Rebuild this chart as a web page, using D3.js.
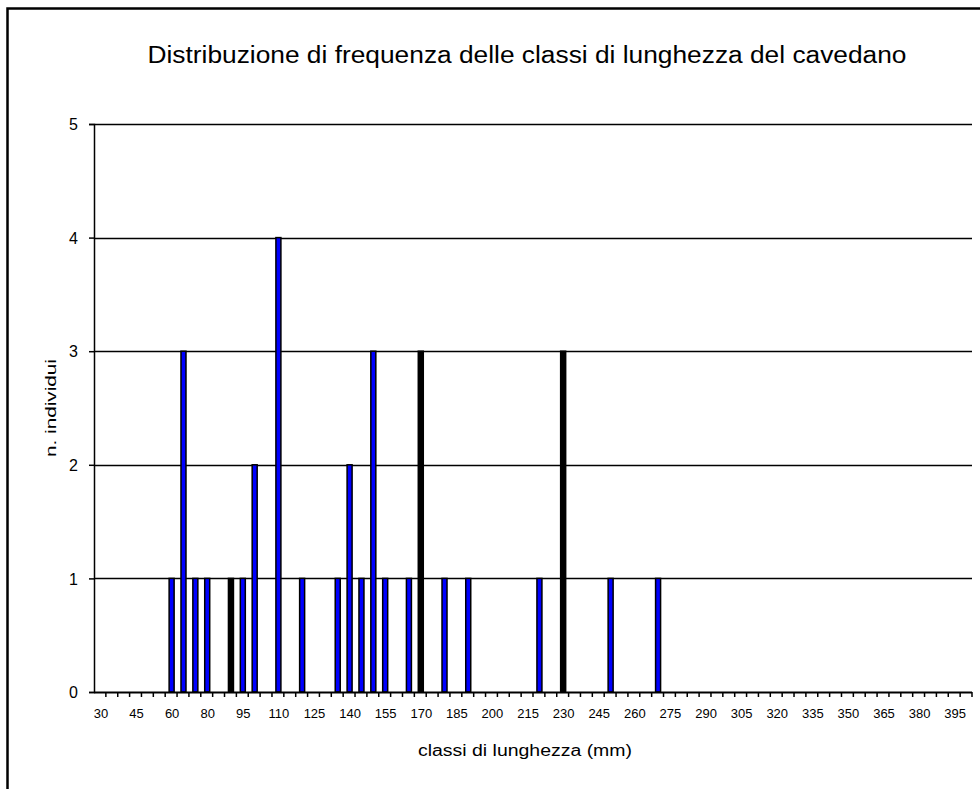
<!DOCTYPE html>
<html>
<head>
<meta charset="utf-8">
<script src="https://cdn.jsdelivr.net/npm/d3@7"></script>
<style>
  body { margin: 0; background: #fff; }
  text { font-family: "Liberation Sans", Arial, sans-serif; fill: #000; }
</style>
</head>
<body>
<div id="chart"></div>
<script>
// classi di lunghezza (mm) - asse categorie
var classi = [30, 35, 40, 45, 50, 55, 60, 65, 70];
for (var v = 80; v <= 400; v += 5) classi.push(v);

// numero di individui per classe (solo classi non vuote)
var classiPiene = [60, 65, 70, 80, 90, 95, 100, 110, 120, 135, 140, 145, 150, 155, 165, 170, 180, 190, 220, 230, 250, 270];
var individui    = [ 1,  3,  1,  1,  1,  1,   2,   4,   1,   1,   2,   1,   3,   1,   1,   3,   1,   1,   1,   3,   1,   1];
// barre che nello screenshot risultano tutte nere
var barreScure = [90, 170, 230];

var yTicks = [0, 1, 2, 3, 4, 5];
var xLabelEvery = 3;

var W = 980, H = 789;
var mLeft = 94, mRight = 972, mTop = 124, mBottom = 692;

var svg = d3.select("#chart").append("svg")
    .attr("width", W)
    .attr("height", H);

svg.append("rect").attr("width", W).attr("height", H).attr("fill", "#fff");

// cornice del grafico
svg.append("rect")
    .attr("x", 7.5).attr("y", 8.5)
    .attr("width", 990).attr("height", 800)
    .attr("fill", "none")
    .attr("stroke", "#000")
    .attr("stroke-width", 2.5);

var x = d3.scaleBand()
    .domain(classi)
    .range([mLeft, mRight])
    .paddingInner(0).paddingOuter(0);

var y = d3.scaleLinear()
    .domain([0, 5])
    .range([mBottom, mTop]);

// griglia orizzontale
svg.append("g").selectAll("line")
    .data(yTicks.filter(function(d){ return d > 0; }))
    .enter().append("line")
    .attr("x1", mLeft).attr("x2", mRight)
    .attr("y1", function(d){ return Math.round(y(d)) + 0.5; })
    .attr("y2", function(d){ return Math.round(y(d)) + 0.5; })
    .attr("stroke", "#000")
    .attr("stroke-width", 1.5);

// barre
var dati = classiPiene.map(function(c, i){ return { classe: c, n: individui[i] }; });
var bw = 5;
svg.append("g").selectAll("rect")
    .data(dati)
    .enter().append("rect")
    .attr("x", function(d){ return x(d.classe) + x.bandwidth() / 2 - bw / 2 + 0.5; })
    .attr("y", function(d){ return y(d.n); })
    .attr("width", bw)
    .attr("height", function(d){ return y(0) - y(d.n); })
    .attr("fill", function(d){ return barreScure.indexOf(d.classe) >= 0 ? "#000" : "#0000ff"; })
    .attr("stroke", "#000")
    .attr("stroke-width", 1.5);

// asse Y
var yAxis = d3.axisLeft(y).tickValues(yTicks).tickSize(5).tickPadding(11).tickFormat(d3.format("d"));
var gy = svg.append("g")
    .attr("transform", "translate(" + mLeft + ",0)")
    .call(yAxis)
    .attr("font-size", 16)
    .attr("font-family", "'Liberation Sans', Arial, sans-serif");
gy.select(".domain").attr("stroke", "#000").attr("stroke-width", 1.5);
gy.selectAll(".tick line").attr("stroke", "#000").attr("stroke-width", 1.5);
gy.selectAll(".tick text").attr("font-size", 16).attr("dy", "0.36em");

// asse X
var gx = svg.append("g")
    .attr("transform", "translate(0," + mBottom + ")");
gx.append("line")
    .attr("x1", mLeft).attr("x2", mRight)
    .attr("y1", 0.5).attr("y2", 0.5)
    .attr("stroke", "#000").attr("stroke-width", 2);
gx.selectAll("line.tk")
    .data(classi)
    .enter().append("line")
    .attr("class", "tk")
    .attr("x1", function(d){ return x(d) + x.bandwidth(); })
    .attr("x2", function(d){ return x(d) + x.bandwidth(); })
    .attr("y1", 0).attr("y2", 5)
    .attr("stroke", "#000").attr("stroke-width", 1.5);
gx.selectAll("text")
    .data(classi.filter(function(d, i){ return i % xLabelEvery === 0; }))
    .enter().append("text")
    .attr("x", function(d){ return x(d) + x.bandwidth() / 2 + 1; })
    .attr("y", 26)
    .attr("text-anchor", "middle")
    .style("font-size", "13px")
    .text(function(d){ return d; });

// titoli
svg.append("text")
    .attr("x", 527).attr("y", 63)
    .attr("text-anchor", "middle")
    .attr("textLength", 759)
    .attr("lengthAdjust", "spacingAndGlyphs")
    .style("font-size", "23px")
    .text("Distribuzione di frequenza delle classi di lunghezza del cavedano");

svg.append("text")
    .attr("x", 525).attr("y", 756)
    .attr("text-anchor", "middle")
    .attr("textLength", 214)
    .attr("lengthAdjust", "spacingAndGlyphs")
    .style("font-size", "16px")
    .text("classi di lunghezza (mm)");

svg.append("text")
    .attr("transform", "translate(56,408) rotate(-90)")
    .attr("text-anchor", "middle")
    .attr("textLength", 98)
    .attr("lengthAdjust", "spacingAndGlyphs")
    .style("font-size", "15px")
    .text("n. individui");
</script>
</body>
</html>
